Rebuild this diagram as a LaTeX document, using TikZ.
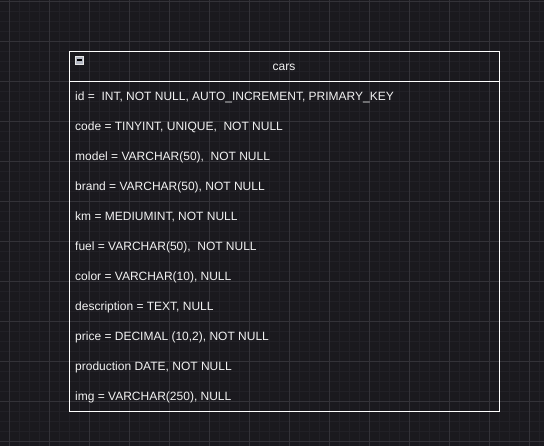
\documentclass[tikz,border=0pt]{standalone}
\usepackage{fontspec}
\setmainfont{Liberation Sans}
\definecolor{bgc}{HTML}{1A191E}
\definecolor{minorc}{HTML}{212026}
\definecolor{majorc}{HTML}{333238}
\definecolor{txtc}{HTML}{F2F2F2}
\definecolor{iconc}{HTML}{B4B8C4}
\tikzset{
  rowtext/.style={anchor=base west, inner sep=0pt, text=txtc, font=\fontsize{12}{14}\selectfont},
  headtext/.style={anchor=base, inner sep=0pt, text=txtc, font=\fontsize{12}{14}\selectfont},
  tablebox/.style={draw=white, line width=1pt},
}
\begin{document}
\begin{tikzpicture}[x=1pt,y=-1pt]
\useasboundingbox (0,0) rectangle (544,446);
\fill[bgc] (0,0) rectangle (544,446);
% minor grid
\foreach \k in {0,...,53} {
  \draw[minorc, line width=0.8pt] ({9.5+10*\k},0) -- ({9.5+10*\k},446);
}
\foreach \k in {0,...,44} {
  \draw[minorc, line width=0.8pt] (0,{1.5+10*\k}) -- (544,{1.5+10*\k});
}
% major grid
\foreach \k in {0,...,13} {
  \draw[majorc, line width=0.9pt] ({9.5+40*\k},0) -- ({9.5+40*\k},446);
}
\foreach \k in {0,...,11} {
  \draw[majorc, line width=0.9pt] (0,{1.5+40*\k}) -- (544,{1.5+40*\k});
}
% table
\node[tablebox, minimum width=429.5pt, minimum height=359.5pt, anchor=north west, inner sep=0pt] (cars) at (69.3,51.3) {};
\coordinate (hl) at (69.3,81.3);
\coordinate (hr) at (498.8,81.3);
\draw[white, line width=1pt] (hl) -- (hr);
\node[headtext] (title) at (284,70.4) {cars};
% collapse icon
\node[draw=white!80!gray, fill=iconc, minimum size=8pt, inner sep=0pt, line width=0.8pt] (icon) at (79,60) {};
\draw[black, line width=1.2pt] ([xshift=-2.5pt]icon.center) -- ([xshift=2.5pt]icon.center);
% rows
\node[rowtext] (r1) at (75,100.6) {id =\ \ INT, NOT NULL, AUTO\_INCREMENT, PRIMARY\_KEY};
\node[rowtext] (r2) at (75,130.6) {code = TINYINT, UNIQUE,\ \ NOT NULL};
\node[rowtext] (r3) at (75,160.6) {model = VARCHAR(50),\ \ NOT NULL};
\node[rowtext] (r4) at (75,190.6) {brand = VARCHAR(50), NOT NULL};
\node[rowtext] (r5) at (75,220.6) {km = MEDIUMINT, NOT NULL};
\node[rowtext] (r6) at (75,250.6) {fuel = VARCHAR(50),\ \ NOT NULL};
\node[rowtext] (r7) at (75,280.6) {color = VARCHAR(10), NULL};
\node[rowtext] (r8) at (75,310.6) {description = TEXT, NULL};
\node[rowtext] (r9) at (75,340.6) {price = DECIMAL (10,2), NOT NULL};
\node[rowtext] (r10) at (75,370.6) {production DATE, NOT NULL};
\node[rowtext] (r11) at (75,400.6) {img = VARCHAR(250), NULL};
\end{tikzpicture}
\end{document}
